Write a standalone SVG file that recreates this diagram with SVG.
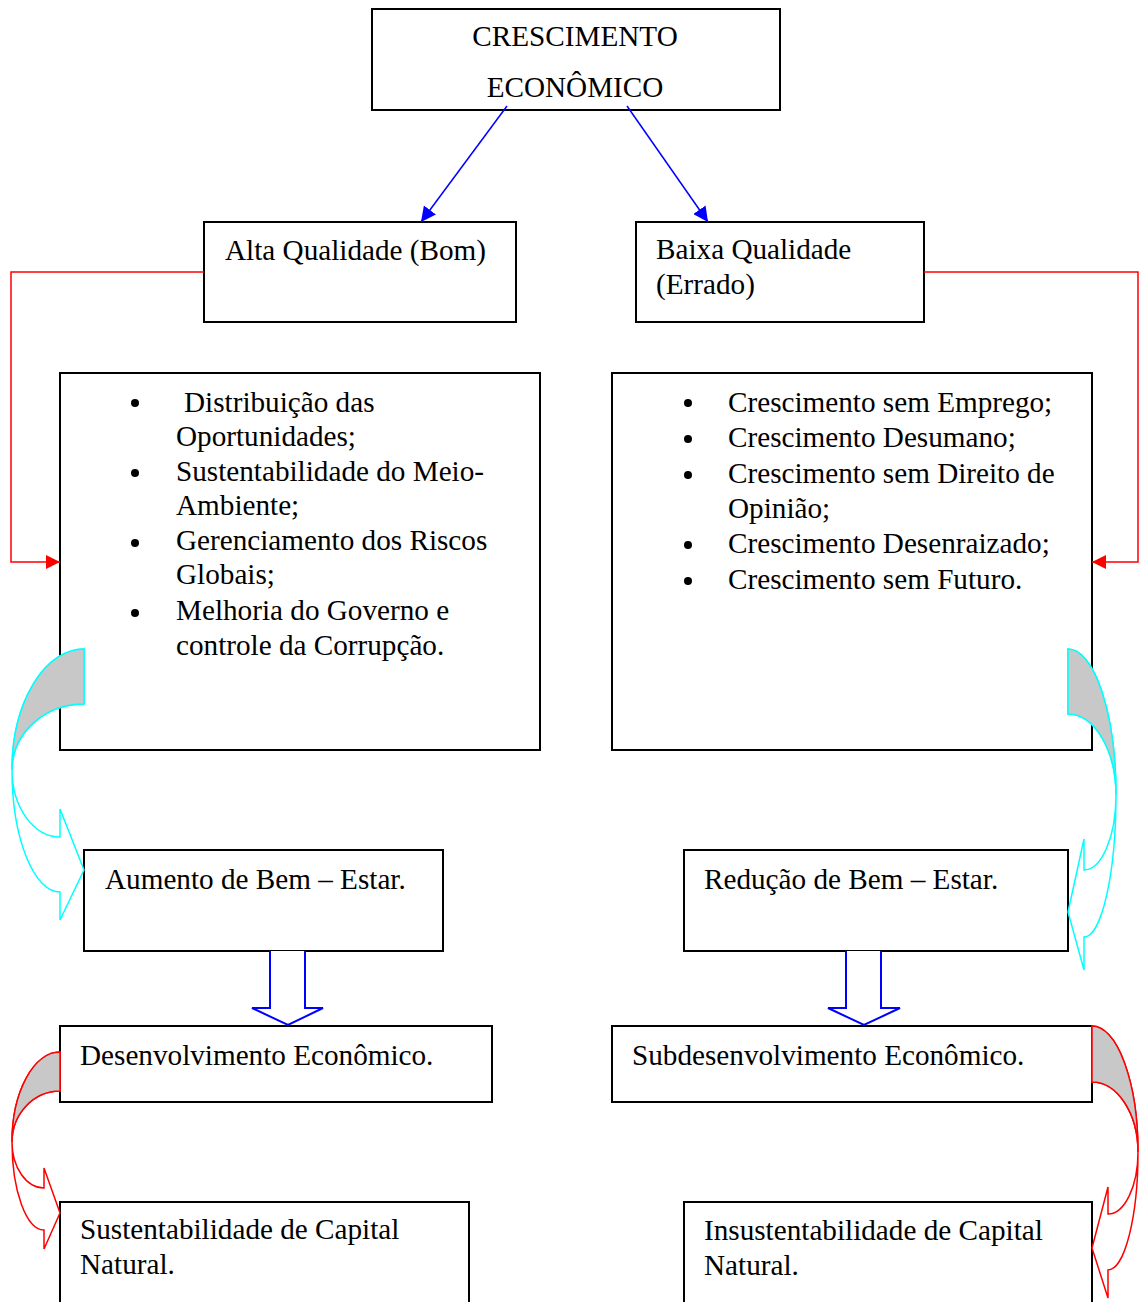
<svg xmlns="http://www.w3.org/2000/svg" width="1139" height="1302" viewBox="0 0 1139 1302">
<style>
.box{fill:#fff;stroke:#000;stroke-width:2}
.t{font-family:"Liberation Serif","Times New Roman",serif;font-size:29.2px;fill:#000}
.blue{stroke:#0000ff;stroke-width:1.5;fill:none}
.red{stroke:#ff0000;stroke-width:1.5;fill:none}
.cy{stroke:#00ffff;stroke-width:1.5;fill:#fff}
.rd{stroke:#ff0000;stroke-width:1.5;fill:#fff}
.gray{fill:#c8c8c8;stroke:none}
.blk{stroke:#0000ff;stroke-width:2;fill:#fff}
</style>
<defs>
<marker id="ab" viewBox="0 0 10 10" refX="10" refY="5" markerWidth="15" markerHeight="15" markerUnits="userSpaceOnUse" orient="auto"><path d="M0,0 L10,5 L0,10 Z" fill="#0000ff"/></marker>
<marker id="ar" viewBox="0 0 10 10" refX="10" refY="5" markerWidth="14" markerHeight="14" markerUnits="userSpaceOnUse" orient="auto"><path d="M0,0 L10,5 L0,10 Z" fill="#ff0000"/></marker>
</defs>

<g id="n-top"><rect class="box" x="372" y="9" width="408" height="101"/>
<text class="t" x="575" y="46" text-anchor="middle">CRESCIMENTO</text>
<text class="t" x="575" y="97" text-anchor="middle">ECONÔMICO</text></g>

<g id="n-alta"><rect class="box" x="204" y="222" width="312" height="100"/>
<text class="t" x="225" y="260">Alta Qualidade (Bom)</text></g>

<g id="n-baixa"><rect class="box" x="636" y="222" width="288" height="100"/>
<text class="t" x="656" y="259">Baixa Qualidade</text>
<text class="t" x="656" y="294">(Errado)</text></g>

<g id="n-listL"><rect class="box" x="60" y="373" width="480" height="377"/>
<circle cx="135" cy="403" r="4"/><circle cx="135" cy="473" r="4"/><circle cx="135" cy="543" r="4"/><circle cx="135" cy="613" r="4"/>
<text class="t" x="184" y="412">Distribuição das</text>
<text class="t" x="176" y="446">Oportunidades;</text>
<text class="t" x="176" y="481">Sustentabilidade do Meio-</text>
<text class="t" x="176" y="515">Ambiente;</text>
<text class="t" x="176" y="550">Gerenciamento dos Riscos</text>
<text class="t" x="176" y="584">Globais;</text>
<text class="t" x="176" y="620">Melhoria do Governo e</text>
<text class="t" x="176" y="655">controle da Corrupção.</text></g>

<g id="n-listR"><rect class="box" x="612" y="373" width="480" height="377"/>
<circle cx="688" cy="403" r="4"/><circle cx="688" cy="439" r="4"/><circle cx="688" cy="475" r="4"/><circle cx="688" cy="545" r="4"/><circle cx="688" cy="581" r="4"/>
<text class="t" x="728" y="412">Crescimento sem Emprego;</text>
<text class="t" x="728" y="447">Crescimento Desumano;</text>
<text class="t" x="728" y="483">Crescimento sem Direito de</text>
<text class="t" x="728" y="518">Opinião;</text>
<text class="t" x="728" y="553">Crescimento Desenraizado;</text>
<text class="t" x="728" y="589">Crescimento sem Futuro.</text></g>

<g id="n-aumento"><rect class="box" x="84" y="850" width="359" height="101"/>
<text class="t" x="105" y="889">Aumento de Bem – Estar.</text></g>

<g id="n-reducao"><rect class="box" x="684" y="850" width="384" height="101"/>
<text class="t" x="704" y="889">Redução de Bem – Estar.</text></g>

<g id="n-desenv"><rect class="box" x="60" y="1026" width="432" height="76"/>
<text class="t" x="80" y="1065">Desenvolvimento Econômico.</text></g>

<g id="n-subdesenv"><rect class="box" x="612" y="1026" width="480" height="76"/>
<text class="t" x="632" y="1065">Subdesenvolvimento Econômico.</text></g>

<g id="n-sust"><rect class="box" x="60" y="1202" width="409" height="110"/>
<text class="t" x="80" y="1239">Sustentabilidade de Capital</text>
<text class="t" x="80" y="1274">Natural.</text></g>

<g id="n-insust"><rect class="box" x="684" y="1202" width="408" height="110"/>
<text class="t" x="704" y="1240">Insustentabilidade de Capital</text>
<text class="t" x="704" y="1275">Natural.</text></g>

<g id="connectors">
<path class="blue" d="M507,106 L421,222" marker-end="url(#ab)"/>
<path class="blue" d="M627,106 L708,222" marker-end="url(#ab)"/>
<path class="red" d="M204,272 H11 V562 H60" marker-end="url(#ar)"/>
<path class="red" d="M924,272 H1138 V562 H1092" marker-end="url(#ar)"/>
<path class="blk" d="M270,951 V1008 H252 L288,1025 L323,1008 H305 V951"/>
<path class="blk" d="M846,951 V1008 H828 L864,1025 L900,1008 H881 V951"/>
<path class="cy" d="M84,649 A72,121 0 0 0 12,770 A48,122 0 0 0 60,892 L60,920 L84,870 L60,809 L60,837 A48,67 0 0 1 12,770 A72,66 0 0 1 84,704 Z"/>
<path class="gray" d="M84,649 A72,121 0 0 0 12,770 A72,66 0 0 1 84,704 Z"/>
<path class="cy" style="fill:none" d="M84,649 A72,121 0 0 0 12,770 A72,66 0 0 1 84,704 Z"/>
<path class="cy" d="M1068,649 A48,146 0 0 1 1116,795 A32,142 0 0 1 1084,937 L1084,970 L1068,912 L1084,839 L1084,870 A32,75 0 0 0 1116,795 A48,81 0 0 0 1068,714 Z"/>
<path class="gray" d="M1068,649 A48,146 0 0 1 1116,795 A48,81 0 0 0 1068,714 Z"/>
<path class="cy" style="fill:none" d="M1068,649 A48,146 0 0 1 1116,795 A48,81 0 0 0 1068,714 Z"/>
<path class="rd" d="M60,1052 A48,90 0 0 0 12,1142 A32,88 0 0 0 44,1230 L44,1249 L60,1213 L44,1168 L44,1188 A32,46 0 0 1 12,1142 A48,51 0 0 1 60,1091 Z"/>
<path class="gray" d="M60,1052 A48,90 0 0 0 12,1142 A48,51 0 0 1 60,1091 Z"/>
<path class="rd" style="fill:none" d="M60,1052 A48,90 0 0 0 12,1142 A48,51 0 0 1 60,1091 Z"/>
<path class="rd" d="M1092,1026 A46,126 0 0 1 1138,1152 A30,118 0 0 1 1108,1270 L1108,1298 L1092,1248 L1108,1187 L1108,1214 A30,62 0 0 0 1138,1152 A46,70 0 0 0 1092,1082 Z"/>
<path class="gray" d="M1092,1026 A46,126 0 0 1 1138,1152 A46,70 0 0 0 1092,1082 Z"/>
<path class="rd" style="fill:none" d="M1092,1026 A46,126 0 0 1 1138,1152 A46,70 0 0 0 1092,1082 Z"/>
</g>
</svg>
